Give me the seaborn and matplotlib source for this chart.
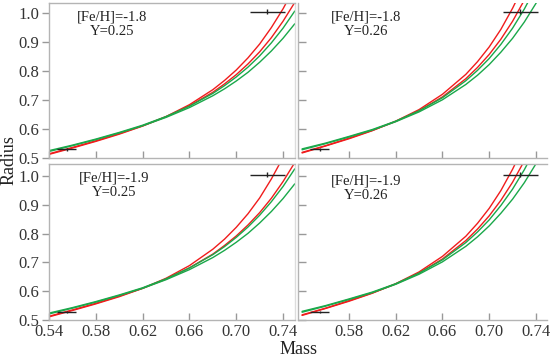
import numpy as np
import pandas as pd
import matplotlib
matplotlib.use("Agg")
import matplotlib.pyplot as plt
import seaborn as sns

# mass grid shared by all model tracks
mass = [0.54, 0.56, 0.58, 0.60, 0.62, 0.64, 0.66, 0.68, 0.69, 0.70, 0.71, 0.72, 0.73, 0.74, 0.75]

# [Fe/H]=-1.8, Y=0.25
tl_red1 = [.511, .533, .556, .581, .609, .642, .683, .735, .767, .803, .845, .893, .950, 1.015, 1.09]
tl_red2 = [.513, .535, .558, .583, .610, .641, .679, .726, .755, .787, .824, .866, .915, .972, 1.037]
tl_grn1 = [.524, .543, .564, .587, .612, .642, .678, .722, .749, .779, .813, .852, .897, .948, 1.007]
tl_grn2 = [.521, .541, .562, .585, .610, .639, .673, .714, .738, .765, .795, .830, .869, .913, .963]

# [Fe/H]=-1.8, Y=0.26
tr_red1 = [.516, .540, .565, .593, .626, .666, .719, .788, .832, .883, .944, 1.017, 1.10, 1.19, 1.29]
tr_red2 = [.518, .541, .567, .594, .625, .662, .710, .773, .812, .857, .910, .972, 1.045, 1.128, 1.22]
tr_grn1 = [.530, .550, .573, .597, .626, .662, .707, .766, .802, .843, .892, .948, 1.014, 1.09, 1.176]
tr_grn2 = [.527, .548, .571, .595, .624, .658, .700, .753, .785, .822, .865, .913, .969, 1.034, 1.105]

# [Fe/H]=-1.9, Y=0.25
bl_red1 = [.511, .533, .556, .581, .610, .645, .689, .746, .781, .822, .869, .924, .990, 1.065, 1.15]
bl_red2 = [.513, .535, .558, .583, .610, .642, .681, .729, .759, .792, .830, .873, .923, .981, 1.047]
bl_grn1 = [.524, .543, .564, .587, .612, .643, .681, .727, .755, .787, .823, .864, .911, .964, 1.025]
bl_grn2 = [.521, .541, .562, .585, .610, .640, .675, .717, .742, .770, .801, .837, .877, .922, .973]

# [Fe/H]=-1.9, Y=0.26
br_red1 = [.516, .540, .565, .593, .626, .667, .721, .791, .836, .888, .950, 1.024, 1.108, 1.199, 1.30]
br_red2 = [.518, .541, .567, .594, .625, .663, .712, .776, .816, .862, .916, .979, 1.053, 1.137, 1.23]
br_grn1 = [.530, .550, .573, .597, .626, .663, .709, .769, .806, .848, .898, .955, 1.022, 1.099, 1.186]
br_grn2 = [.527, .548, .571, .595, .624, .659, .702, .756, .789, .827, .871, .920, .977, 1.043, 1.115]

# observed binary components
obs_mass = [0.555, 0.7265]
obs_mass_err = [0.008, 0.015]
obs_radius = [0.528, 1.005]
obs_radius_err = [0.004, 0.008]

labels = ["[Fe/H]=-1.8\nY=0.25", "[Fe/H]=-1.8\nY=0.26", "[Fe/H]=-1.9\nY=0.25", "[Fe/H]=-1.9\nY=0.26"]
panel_curves = [
    (tl_red1, tl_red2, tl_grn1, tl_grn2),
    (tr_red1, tr_red2, tr_grn1, tr_grn2),
    (bl_red1, bl_red2, bl_grn1, bl_grn2),
    (br_red1, br_red2, br_grn1, br_grn2),
]
curve_names = ["red1", "red2", "grn1", "grn2"]
palette = {"red1": "#f01c1c", "red2": "#f01c1c", "grn1": "#1aa84a", "grn2": "#1aa84a"}

sns.set_style("white")
plt.rcParams["font.family"] = ["Liberation Serif", "DejaVu Serif"]

fig = plt.figure(figsize=(5.52, 3.61), dpi=100)

W, H = 552.0, 361.0
# axes rectangles in pixels: (left, top, right, bottom)
rects = [(49, 3, 295, 158), (298, 3, 547, 158), (49, 164, 295, 320), (298, 164, 547, 320)]
xlims = [(0.54, 0.7502), (0.5365, 0.7494), (0.54, 0.7502), (0.5365, 0.7494)]
ylims = [(0.4985, 1.035), (0.4985, 1.035), (0.5, 1.042), (0.5, 1.042)]
text_pos = [(0.255, 0.86), (0.272, 0.86), (0.263, 0.862), (0.272, 0.846)]

spine_col = "#b4b4b4"
tick_col = "#999999"
for i, (l, t, r, b) in enumerate(rects):
    ax = fig.add_axes([l / W, 1 - b / H, (r - l) / W, (b - t) / H])
    rows = []
    for name, vals in zip(curve_names, panel_curves[i]):
        for m, v in zip(mass, vals):
            rows.append({"Mass": m, "Radius": v, "curve": name})
    df = pd.DataFrame(rows)
    sns.lineplot(data=df, x="Mass", y="Radius", hue="curve", palette=palette,
                 ax=ax, legend=False, sort=False, linewidth=1.0)
    ax.errorbar(obs_mass, obs_radius, xerr=obs_mass_err, yerr=obs_radius_err,
                fmt="none", ecolor="#222222", elinewidth=1.0, capsize=0)
    ax.set_xlim(*xlims[i])
    ax.set_ylim(*ylims[i])
    ax.set_xlabel("")
    ax.set_ylabel("")

    left_col = i % 2 == 0
    bottom_row = i >= 2
    if left_col:
        ax.set_xticks([0.54, 0.58, 0.62, 0.66, 0.70, 0.74])
    else:
        ax.set_xticks([0.58, 0.62, 0.66, 0.70, 0.74])
    ax.set_yticks([0.5, 0.6, 0.7, 0.8, 0.9, 1.0])
    ax.xaxis.set_major_formatter(plt.FuncFormatter(lambda v, p: f"{v:.2f}"))
    ax.yaxis.set_major_formatter(plt.FuncFormatter(lambda v, p: f"{v:.1f}"))
    ax.tick_params(axis="x", bottom=True, top=False, direction="in", length=5, width=1.0,
                   color=tick_col, labelsize=12, labelcolor="#333333",
                   labelbottom=bottom_row, pad=3)
    ax.tick_params(axis="y", left=True, right=False, direction="out" if left_col else "in",
                   length=5 if left_col else 6, width=1.0, color=tick_col, labelsize=12,
                   labelcolor="#333333", labelleft=left_col, pad=2)
    for side, sp in ax.spines.items():
        sp.set_color(spine_col)
        sp.set_linewidth(1.0)
    if not left_col:
        ax.spines["right"].set_visible(False)
        if not bottom_row:
            ax.spines["top"].set_visible(False)
    else:
        ax.spines["right"].set_color("#dddddd")

    ax.text(text_pos[i][0], text_pos[i][1], labels[i], transform=ax.transAxes,
            ha="center", va="center", fontsize=10.5, color="#222222", linespacing=1.15)

fig.text(0.017, 0.557, "Radius", rotation=90, ha="center", va="center", fontsize=13, color="#222222")
fig.text(0.541, 0.033, "Mass", ha="center", va="center", fontsize=13, color="#222222")

fig.savefig("out.png", dpi=100)
